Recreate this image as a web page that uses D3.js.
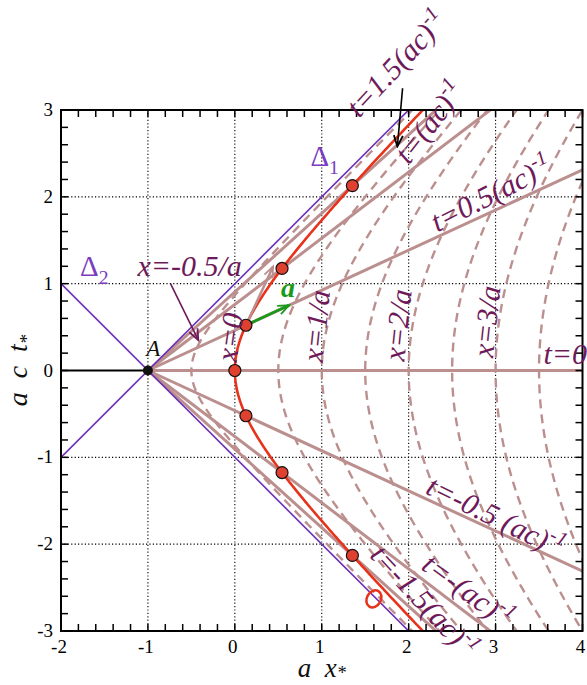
<!DOCTYPE html>
<html>
<head>
<meta charset="utf-8">
<script src="https://cdn.jsdelivr.net/npm/d3@7"></script>
<style>
  body { margin: 0; background: #fff; }
  svg { display: block; font-family: "Liberation Serif", "DejaVu Serif", serif; }
</style>
</head>
<body>
<div id="chart"></div>
<script>
// axis ranges and ticks (a x*, a c t*)
var xDomain = [-2, 4];
var tDomain = [-3, 3];
var xTickValues = [-2, -1, 0, 1, 2, 3, 4];
var tTickValues = [-3, -2, -1, 0, 1, 2, 3];
var gridX = [-1, 0, 1, 2, 3];
var gridT = [-2, -1, 0, 1, 2];

// event A (horizon crossing)
var eventA = [-1, 0];
// proper times a*tau of the marked points / t = const rays
var properTimes = [-1.5, -1, -0.5, 0, 0.5, 1, 1.5];
// Rindler positions a*x of the dashed x = const lines
var rindlerPositions = [-0.5, 0.5, 1, 1.5, 2, 2.5, 3, 3.5];
// horizons through A: slope +1 and -1
var horizons = [1, -1];

var width = 587, height = 685;
var margin = {left: 61, right: 4.5, top: 110, bottom: 54};

var brown = "#bc8f8f", red = "#e8331c", purple = "#6b30b5",
    labelColor = "#6e1a5a", deltaColor = "#7a3cc0", green = "#1a9a1a";

var x = d3.scaleLinear().domain(xDomain).range([margin.left, width - margin.right]);
var y = d3.scaleLinear().domain(tDomain).range([height - margin.bottom, margin.top]);

var svg = d3.select("#chart").append("svg")
    .attr("width", width)
    .attr("height", height);

//Arrow markers, open V heads
var defs = svg.append("defs");
[["black", "#000"], ["purple", labelColor], ["green", green], ["brown", brown]].forEach(function(m) {
    defs.append("marker")
        .attr("id", "arrow-" + m[0])
        .attr("viewBox", "-12 -6 14 12")
        .attr("refX", 0).attr("refY", 0)
        .attr("markerWidth", 14).attr("markerHeight", 12)
        .attr("markerUnits", "userSpaceOnUse")
        .attr("orient", "auto")
        .append("path")
        .attr("d", "M-11,-4.5 L0,0 L-11,4.5")
        .attr("fill", "none")
        .attr("stroke", m[1])
        .attr("stroke-width", 1.8);
});

defs.append("clipPath").attr("id", "plot-clip")
    .append("rect")
    .attr("x", x(xDomain[0])).attr("y", y(tDomain[1]))
    .attr("width", x(xDomain[1]) - x(xDomain[0]))
    .attr("height", y(tDomain[0]) - y(tDomain[1]));

//Dotted grid
var grid = svg.append("g").attr("stroke", "#000").attr("stroke-width", 1.1)
    .attr("stroke-dasharray", "1.2,2.2");
grid.selectAll(".gx").data(gridX).enter().append("line")
    .attr("x1", function(d) { return x(d); }).attr("x2", function(d) { return x(d); })
    .attr("y1", y(tDomain[0])).attr("y2", y(tDomain[1]));
grid.selectAll(".gt").data(gridT).enter().append("line")
    .attr("y1", function(d) { return y(d); }).attr("y2", function(d) { return y(d); })
    .attr("x1", x(xDomain[0])).attr("x2", x(xDomain[1]));

var plot = svg.append("g").attr("clip-path", "url(#plot-clip)");
var line = d3.line().x(function(d) { return x(d[0]); }).y(function(d) { return y(d[1]); });

//Hyperbola of constant Rindler position r, through A's light cone
function hyperbola(r) {
    var k = 1 + r, pts = [];
    for (var u = -3; u <= 3.0001; u += 0.01) {
        pts.push([eventA[0] + k * Math.cosh(u), eventA[1] + k * Math.sinh(u)]);
    }
    return pts;
}

//Dashed x = const lines
plot.selectAll(".rindler").data(rindlerPositions).enter().append("path")
    .attr("d", function(d) { return line(hyperbola(d)); })
    .attr("fill", "none")
    .attr("stroke", brown)
    .attr("stroke-width", 2.4)
    .attr("stroke-dasharray", "9,6");

//t = const rays from A
plot.selectAll(".ray").data(properTimes).enter().append("line")
    .attr("x1", x(eventA[0])).attr("y1", y(eventA[1]))
    .attr("x2", function() { return x(eventA[0] + 6); })
    .attr("y2", function(d) { return y(eventA[1] + 6 * Math.tanh(d)); })
    .attr("stroke", brown)
    .attr("stroke-width", 3);

//Horizons
plot.selectAll(".horizon").data(horizons).enter().append("line")
    .attr("x1", x(xDomain[0])).attr("y1", function(d) { return y(d * (xDomain[0] - eventA[0])); })
    .attr("x2", x(2.2)).attr("y2", function(d) { return y(d * (2.2 - eventA[0])); })
    .attr("stroke", purple)
    .attr("stroke-width", 1.6);

//Worldline x = 0
plot.append("path")
    .attr("d", line(hyperbola(0)))
    .attr("fill", "none")
    .attr("stroke", red)
    .attr("stroke-width", 2.6);

//Black segment up to A
svg.append("line")
    .attr("x1", x(xDomain[0])).attr("y1", y(0))
    .attr("x2", x(eventA[0])).attr("y2", y(eventA[1]))
    .attr("stroke", "#000").attr("stroke-width", 2.2);
svg.append("circle")
    .attr("cx", x(eventA[0])).attr("cy", y(eventA[1]))
    .attr("r", 5).attr("fill", "#111");

//Velocity (brown) and acceleration (green) at a*tau = 0.5
var tau0 = 0.5;
var p0 = [Math.cosh(tau0) - 1, Math.sinh(tau0)];
svg.append("line")
    .attr("x1", x(p0[0])).attr("y1", y(p0[1]))
    .attr("x2", x(p0[0] + 0.6 * Math.sinh(tau0))).attr("y2", y(p0[1] + 0.6 * Math.cosh(tau0)))
    .attr("stroke", brown).attr("stroke-width", 2.5)
    .attr("marker-end", "url(#arrow-brown)");
svg.append("line")
    .attr("x1", x(p0[0])).attr("y1", y(p0[1]))
    .attr("x2", x(p0[0] + 0.44 * Math.cosh(tau0))).attr("y2", y(p0[1] + 0.44 * Math.sinh(tau0)))
    .attr("stroke", green).attr("stroke-width", 2.8)
    .attr("marker-end", "url(#arrow-green)");

//Marked points on the worldline
svg.selectAll(".pt").data(properTimes).enter().append("circle")
    .attr("cx", function(d) { return x(Math.cosh(d) - 1); })
    .attr("cy", function(d) { return y(Math.sinh(d)); })
    .attr("r", 6)
    .attr("fill", "#e04030")
    .attr("stroke", "#111")
    .attr("stroke-width", 1.2);

//Red open marker
svg.append("ellipse")
    .attr("transform", "translate(" + x(1.6) + "," + y(-2.63) + ") rotate(30)")
    .attr("rx", 7).attr("ry", 9)
    .attr("fill", "none").attr("stroke", red).attr("stroke-width", 2.6);

//Label arrows
svg.append("line")
    .attr("x1", x(1.93)).attr("y1", y(3.25)).attr("x2", x(1.87)).attr("y2", y(2.58))
    .attr("stroke", "#000").attr("stroke-width", 1.6)
    .attr("marker-end", "url(#arrow-black)");
svg.append("line")
    .attr("x1", x(-0.74)).attr("y1", y(1.0)).attr("x2", x(-0.42)).attr("y2", y(0.35))
    .attr("stroke", labelColor).attr("stroke-width", 1.6)
    .attr("marker-end", "url(#arrow-purple)");

//Frame and inward ticks
svg.append("rect")
    .attr("x", x(xDomain[0])).attr("y", y(tDomain[1]))
    .attr("width", x(xDomain[1]) - x(xDomain[0]))
    .attr("height", y(tDomain[0]) - y(tDomain[1]))
    .attr("fill", "none").attr("stroke", "#000").attr("stroke-width", 2);

var minorX = d3.range(0, 31).map(function(i) { return xDomain[0] + i * 0.2; });
var minorT = d3.range(0, 31).map(function(i) { return tDomain[0] + i * 0.2; });
var tickLen = 7;
var ticks = svg.append("g").attr("stroke", "#000").attr("stroke-width", 1.5);
minorX.forEach(function(v) {
    ticks.append("line").attr("x1", x(v)).attr("x2", x(v))
        .attr("y1", y(tDomain[0])).attr("y2", y(tDomain[0]) - tickLen);
    ticks.append("line").attr("x1", x(v)).attr("x2", x(v))
        .attr("y1", y(tDomain[1])).attr("y2", y(tDomain[1]) + tickLen);
});
minorT.forEach(function(v) {
    ticks.append("line").attr("y1", y(v)).attr("y2", y(v))
        .attr("x1", x(xDomain[0])).attr("x2", x(xDomain[0]) + tickLen);
    ticks.append("line").attr("y1", y(v)).attr("y2", y(v))
        .attr("x1", x(xDomain[1])).attr("x2", x(xDomain[1]) - tickLen);
});

//Tick labels
svg.selectAll(".xl").data(xTickValues).enter().append("text")
    .attr("x", function(d) { return x(d) - 2; })
    .attr("y", y(tDomain[0]) + 22)
    .attr("text-anchor", "middle")
    .attr("font-size", 19)
    .text(function(d) { return d < 0 ? "-" + (-d) : d; });
svg.selectAll(".tl").data(tTickValues).enter().append("text")
    .attr("x", x(xDomain[0]) - 8)
    .attr("y", function(d) { return y(d) + 6; })
    .attr("text-anchor", "end")
    .attr("font-size", 19)
    .text(function(d) { return d < 0 ? "-" + (-d) : d; });

//Rich text helper: parts = [[text, "sup"|"sub"]]
function richText(parent, px, py, rot, parts, fs, color, opts) {
    opts = opts || {};
    var t = parent.append("text")
        .attr("transform", "translate(" + px + "," + py + ") rotate(" + rot + ")")
        .attr("font-size", fs)
        .attr("fill", color)
        .attr("font-style", opts.style || "italic")
        .attr("font-weight", opts.weight || "normal")
        .attr("text-anchor", opts.anchor || "start");
    var shift = 0;
    parts.forEach(function(p) {
        var ts = t.append("tspan").text(p[0]);
        var target = p[1] === "sup" ? -0.42 * fs : p[1] === "sub" ? (opts.sub || 0.28) * fs : 0;
        if (target !== shift) ts.attr("dy", target - shift);
        if (p[1]) ts.attr("font-size", fs * 0.68);
        shift = target;
    });
    return t;
}

var labels = [
    {parts: [["t=1.5(ac)"], ["-1", "sup"]], x: 1.43, t: 2.9, rot: -47},
    {parts: [["t=(ac)"], ["-1", "sup"]], x: 2.0, t: 2.36, rot: -52},
    {parts: [["t=0.5(ac)"], ["-1", "sup"]], x: 2.33, t: 1.59, rot: -27},
    {parts: [["t=0"]], x: 3.55, t: 0.07, rot: 0},
    {parts: [["t=-0.5 (ac)"], ["-1", "sup"]], x: 2.18, t: -1.41, rot: 26},
    {parts: [["t=-(ac)"], ["-1", "sup"]], x: 2.13, t: -2.28, rot: 36},
    {parts: [["t=-1.5(ac)"], ["-1", "sup"]], x: 1.54, t: -2.14, rot: 47},
    {parts: [["x=0"]], x: 0.02, t: 0.09, rot: -82},
    {parts: [["x=1/a"]], x: 1.01, t: 0.09, rot: -84},
    {parts: [["x=2/a"]], x: 1.95, t: 0.1, rot: -84},
    {parts: [["x=3/a"]], x: 2.97, t: 0.14, rot: -84},
    {parts: [["x=-0.5/a"]], x: -1.12, t: 1.09, rot: 0}
];
var labelLayer = svg.append("g");
labels.forEach(function(l) {
    richText(labelLayer, x(l.x), y(l.t), l.rot, l.parts, 30, labelColor);
});

//Horizon names, event name, acceleration name
richText(labelLayer, x(0.87), y(2.36), 0, [["Δ"], ["1", "sub"]], 29, deltaColor, {style: "normal"});
richText(labelLayer, x(-1.78), y(1.09), 0, [["Δ"], ["2", "sub"]], 29, deltaColor, {style: "normal"});
richText(labelLayer, x(-1.02), y(0.17), 0, [["A"]], 23, "#111");
richText(labelLayer, x(0.53), y(0.85), 0, [["a"]], 28, green, {weight: "bold"});

//Axis titles
richText(svg, (x(xDomain[0]) + x(xDomain[1])) / 2, 677, 0,
    [["a\u2002x"], ["*", "sub"]], 27, "#111", {anchor: "middle", sub: 0.08});
richText(svg, 27, (y(tDomain[0]) + y(tDomain[1])) / 2, -90,
    [["a\u2002c\u2002t"], ["*", "sub"]], 28, "#111", {anchor: "middle", sub: 0.2});
</script>
</body>
</html>
